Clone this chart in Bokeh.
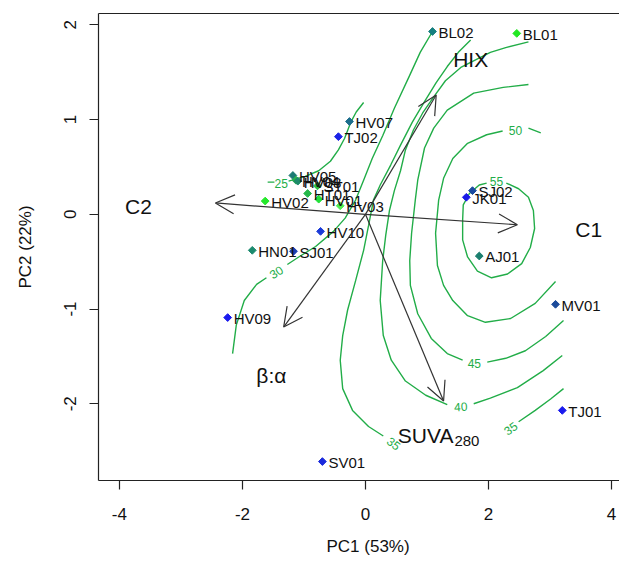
import math
from bokeh.plotting import figure
from bokeh.models import Range1d, LinearAxis, FixedTicker, Arrow, OpenHead, ColumnDataSource, Title
from bokeh.core.properties import value
from bokeh.embed import file_html
from bokeh.resources import INLINE

nan = float("nan")
FONT = "Liberation Sans"

# ---- sample scores (PC1, PC2) ----
site_names = ["BL02", "BL01", "HV07", "TJ02", "HV05", "HV04", "HV08", "ST01", "HT01", "HV01",
              "HV02", "HV03", "HV10", "HN01", "SJ01", "HV09", "SJ02", "JK01", "AJ01", "MV01",
              "TJ01", "SV01"]
site_pc1 = [1.09, 2.46, -0.26, -0.44, -1.18, -1.13, -1.10, -0.78, -0.94, -0.76,
            -1.63, -0.41, -0.73, -1.84, -1.17, -2.24, 1.74, 1.64, 1.85, 3.09,
            3.20, -0.70]
site_pc2 = [1.93, 1.91, 0.98, 0.82, 0.41, 0.36, 0.35, 0.30, 0.22, 0.16,
            0.14, 0.09, -0.18, -0.38, -0.39, -1.09, 0.25, 0.18, -0.44, -0.95,
            -2.07, -2.61]
site_colors = ["#157f7f", "#22e822", "#1c6d8c", "#1a22e6", "#1b7a72", "#28b04c", "#1d8a6a",
               "#2cc040", "#26b84a", "#22e03a", "#24e82a", "#50ee50", "#1a3ad8", "#1b8a6e",
               "#1b3fb0", "#1a1aee", "#1a4aa0", "#1a1ae8", "#1b7f6f", "#1b4a9a",
               "#1a1aee", "#1a2adc"]

# ---- variable loadings (arrows) ----
var_names = ["C1", "C2", "HIX", "β:α", "SUVA"]
var_pc1 = [2.47, -2.44, 1.15, -1.33, 1.27]
var_pc2 = [-0.11, 0.12, 1.26, -1.19, -1.97]
var_label_x = [3.63, -3.69, 1.71, -1.53]
var_label_y = [-0.16, 0.08, 1.63, -1.70]
suva_label_x = 1.43
suva_label_y = -2.33

# ---- fitted surface contours, NaN = label gap ----
c25_x = [-1.59, -1.48, nan, -1.25, -0.98, -0.76, -0.57, -0.44, -0.34, -0.24, -0.15, -0.03]
c25_y = [0.34, 0.34, nan, 0.35, 0.40, 0.46, 0.56, 0.68, 0.80, 0.97, 1.08, 1.18]
c30_x = [-2.16, -2.10, -1.97, -1.77, -1.61, nan, -1.27, -1.06, -0.81, -0.52, -0.33, -0.16,
         -0.03, 0.11, 0.28, 0.47, 0.70, 0.89, 1.09]
c30_y = [-1.47, -1.17, -0.91, -0.74, -0.67, nan, -0.53, -0.44, -0.34, -0.18, -0.04, 0.15,
         0.36, 0.59, 0.83, 1.12, 1.44, 1.71, 1.93]
c35_x = [1.71, 1.51, 1.33, 1.15, 0.96, 0.76, 0.57, 0.41, 0.24, 0.13, 0.05, -0.03, -0.16,
         -0.29, -0.37, -0.41, -0.37, -0.21, 0.05, 0.29, nan, 2.49, 2.76, 3.01, 3.22]
c35_y = [1.84, 1.71, 1.56, 1.39, 1.19, 0.97, 0.73, 0.52, 0.31, 0.15, -0.12, -0.38, -0.70,
         -1.01, -1.28, -1.54, -1.84, -2.07, -2.24, -2.34, nan, -2.19, -2.07, -1.95, -1.84]
c40_x = [2.65, 2.28, 2.03, 1.55, 1.30, 1.11, 0.93, 0.78, 0.65, 0.57, 0.47, 0.39, 0.33, 0.28,
         0.24, 0.29, 0.42, 0.65, 0.98, 1.33, nan, 1.76, 2.03, 2.47, 2.89, 3.20]
c40_y = [1.82, 1.76, 1.71, 1.55, 1.41, 1.24, 1.07, 0.89, 0.68, 0.46, 0.25, 0.04, -0.22, -0.49,
         -0.91, -1.28, -1.54, -1.76, -1.91, -2.01, nan, -2.00, -1.94, -1.83, -1.65, -1.49]
c45_x = [2.65, 2.24, 1.76, 1.33, 1.11, 0.96, 0.85, 0.81, 0.75, 0.72, 0.73, 0.85, 1.07, 1.33,
         1.58, nan, 1.98, 2.28, 2.60, 2.93, 3.22]
c45_y = [1.37, 1.34, 1.28, 1.10, 0.91, 0.70, 0.36, 0.15, -0.20, -0.49, -0.75, -1.05, -1.31,
         -1.47, -1.54, nan, -1.56, -1.52, -1.44, -1.29, -1.12]
c50_x = [2.85, 2.65, nan, 2.23, 1.97, 1.66, 1.42, 1.27, 1.19, 1.14, 1.17, 1.27, 1.42, 1.66,
         1.95, 2.36, 2.76, 3.09]
c50_y = [0.86, 0.91, nan, 0.88, 0.84, 0.75, 0.59, 0.38, 0.15, -0.20, -0.54, -0.75, -0.91,
         -1.07, -1.14, -1.10, -0.94, -0.71]
c55_x = [2.29, 2.49, 2.65, 2.73, 2.75, 2.68, 2.54, 2.31, 2.05, 1.82, 1.66, 1.58, 1.58, 1.59,
         1.69, 1.85, 1.97]
c55_y = [0.33, 0.27, 0.18, 0.04, -0.15, -0.35, -0.52, -0.63, -0.67, -0.60, -0.45, -0.27,
         -0.06, 0.10, 0.22, 0.31, 0.33]
contour_x = [c25_x, c30_x, c35_x, c40_x, c45_x, c50_x, c55_x]
contour_y = [c25_y, c30_y, c35_y, c40_y, c45_y, c50_y, c55_y]

# contour labels
clab_text = ["25", "30", "35", "35", "40", "45", "50", "55"]
clab_x = [-1.37, -1.45, 0.46, 2.36, 1.55, 1.77, 2.44, 2.13]
clab_y = [0.33, -0.61, -2.42, -2.26, -2.03, -1.58, 0.89, 0.35]
clab_angle = [0, 33, -38, 36, 3, 0, 0, 0]

x_ticks = [-4, -2, 0, 2, 4]
y_ticks = [-2, -1, 0, 1, 2]

GREEN = "#22ad48"
ARROW = "#333333"

p = figure(width=619, height=567, x_range=Range1d(-4.34, 4.13), y_range=Range1d(-2.81, 2.12),
           output_backend="svg", toolbar_location=None,
           min_border_left=98, min_border_right=0, min_border_top=13, min_border_bottom=87)
p.outline_line_color = None
p.xgrid.visible = False
p.ygrid.visible = False
p.background_fill_color = "white"
p.border_fill_color = "white"

for ax in (p.xaxis[0], p.yaxis[0]):
    ax.axis_line_color = "#222222"
    ax.axis_line_width = 1.2
    ax.major_tick_line_color = "#222222"
    ax.major_tick_line_width = 1.2
    ax.major_tick_in = 0
    ax.major_tick_out = 9
    ax.minor_tick_line_color = None
    ax.major_label_text_font = FONT
    ax.major_label_text_font_size = "17px"
    ax.major_label_text_color = "#111111"
    ax.axis_label_text_font = FONT
    ax.axis_label_text_font_size = "17px"
    ax.axis_label_text_font_style = "normal"
    ax.axis_label_text_color = "#111111"

p.xaxis.ticker = FixedTicker(ticks=x_ticks)
p.yaxis.ticker = FixedTicker(ticks=y_ticks)
p.xaxis.major_label_overrides = {t: str(t) for t in x_ticks}
p.yaxis.major_label_overrides = {t: str(t) for t in y_ticks}
p.yaxis.axis_label = "PC2 (22%)"
p.xaxis.major_label_standoff = 18
p.yaxis.major_label_standoff = 13
p.yaxis.axis_label_standoff = 27
p.yaxis.major_label_orientation = "vertical"

# x-axis title placed like R's (centred on the full, uncropped plot box)
p.add_layout(Title(text="PC1 (53%)", align="left", offset=228, standoff=24,
                   text_font=FONT, text_font_size="17px", text_font_style="normal",
                   text_color="#111111"), "below")

top = LinearAxis(ticker=FixedTicker(ticks=[]), axis_line_color="#222222", axis_line_width=1.2,
                 major_tick_line_color=None, minor_tick_line_color=None,
                 major_label_text_font_size="0px")
p.add_layout(top, "above")

# contours
for cx, cy in zip(contour_x, contour_y):
    p.line(cx, cy, line_color=GREEN, line_width=1.4)
p.text(x=clab_x, y=clab_y, text=clab_text, angle=[math.radians(a) for a in clab_angle],
       text_font=value(FONT), text_font_size="12px", text_color=GREEN,
       text_align="center", text_baseline="middle")

# arrows
asrc = ColumnDataSource(dict(x0=[0] * len(var_pc1), y0=[0] * len(var_pc1), x1=var_pc1, y1=var_pc2))
p.add_layout(Arrow(source=asrc, x_start="x0", y_start="y0", x_end="x1", y_end="y1",
                   line_color=ARROW, line_width=1.2,
                   end=OpenHead(size=19, line_color=ARROW, line_width=1.2)))
p.text(x=var_label_x, y=var_label_y, text=var_names[:4], text_font=value(FONT),
       text_font_size="21px", text_color="#111111", text_align="center", text_baseline="middle")
p.text(x=[suva_label_x], y=[suva_label_y], text=["SUVA"], text_font=value(FONT),
       text_font_size="21px", text_color="#111111", text_align="right", text_baseline="middle")
p.text(x=[suva_label_x], y=[suva_label_y], text=["280"], text_font=value(FONT), x_offset=1, y_offset=6,
       text_font_size="15px", text_color="#111111", text_align="left", text_baseline="middle")

# points and labels
p.scatter(site_pc1, site_pc2, marker="square", size=5.5, angle=math.pi / 4,
          fill_color=site_colors, line_color=site_colors)
p.text(x=site_pc1, y=site_pc2, text=site_names, x_offset=6, y_offset=1,
       text_font=value(FONT), text_font_size="15px", text_color="#111111",
       text_align="left", text_baseline="middle")

open("out.html", "w").write(file_html(p, INLINE))
